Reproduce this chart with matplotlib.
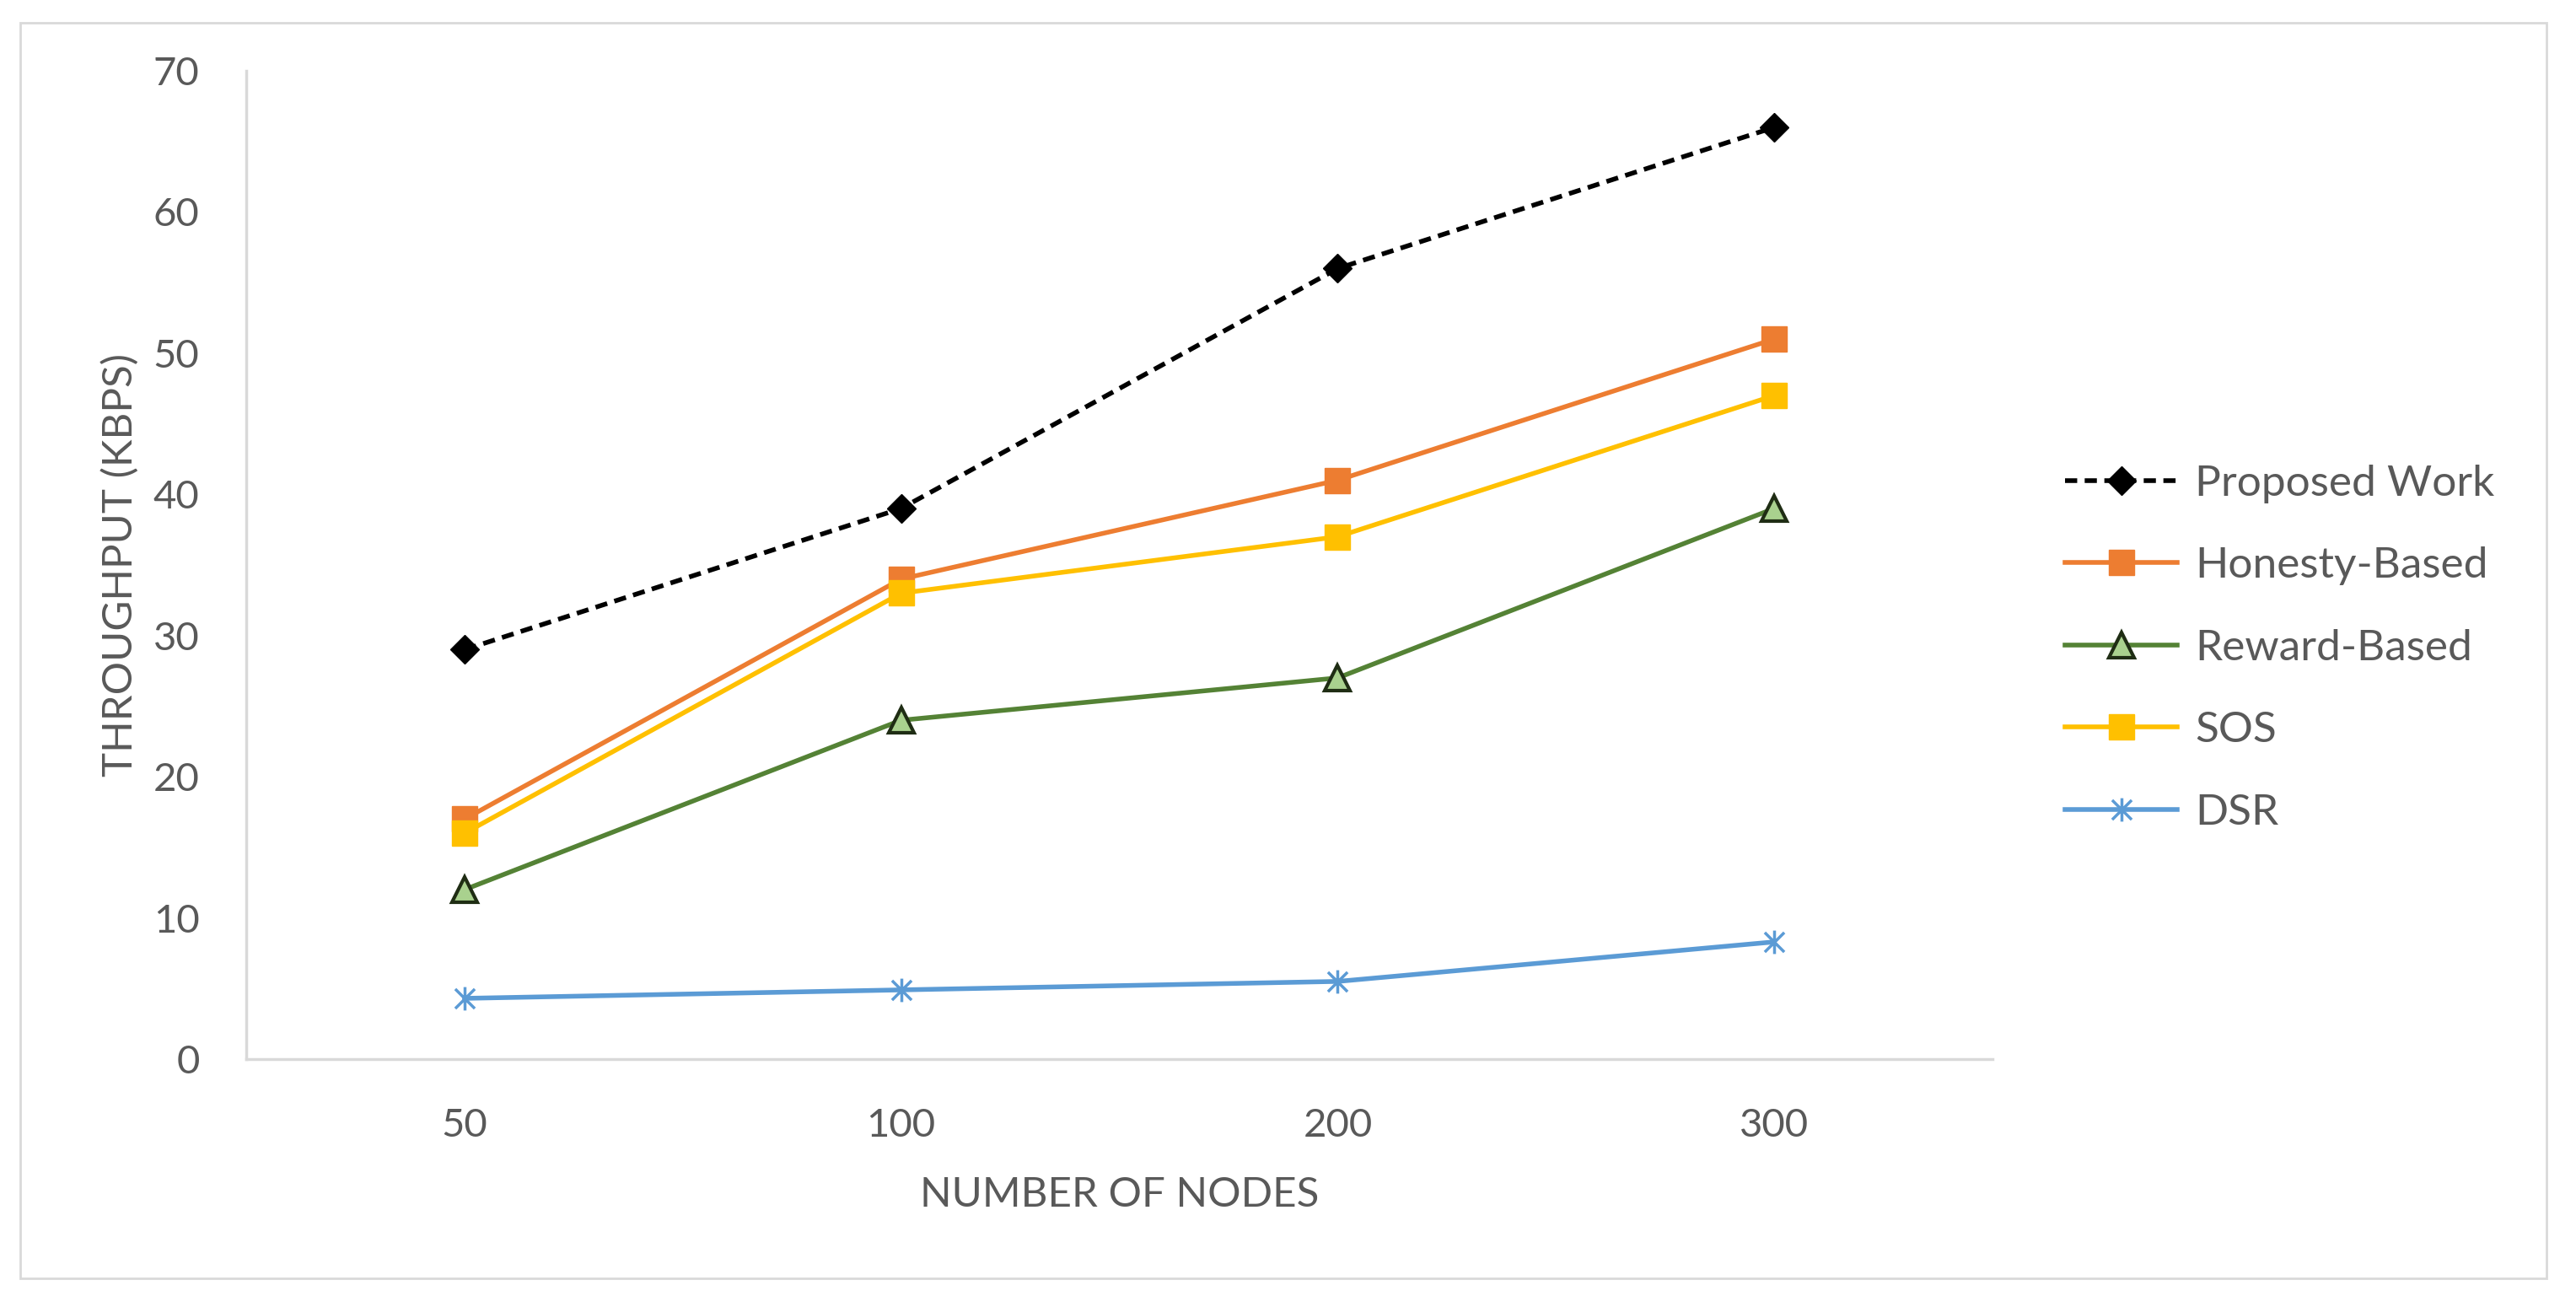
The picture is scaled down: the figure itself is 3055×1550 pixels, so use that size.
import matplotlib
matplotlib.use("Agg")
import matplotlib.pyplot as plt
from matplotlib.path import Path
from matplotlib.patches import Rectangle

nodes = ["50", "100", "200", "300"]
proposed = [29, 39, 56, 66]
honesty = [17, 34, 41, 51]
reward = [12, 24, 27, 39]
sos = [16, 33, 37, 47]
dsr = [4.3, 4.9, 5.5, 8.3]

# asterisk like the Excel star marker
star = Path([(-1, -1), (1, 1), (-1, 1), (1, -1), (0, -1.2), (0, 1.2)],
            [Path.MOVETO, Path.LINETO, Path.MOVETO, Path.LINETO, Path.MOVETO, Path.LINETO])

plt.rcParams['font.family'] = ['Lato', 'DejaVu Sans']
txt = '#595959'

fig = plt.figure(figsize=(30.55, 15.5), dpi=100)
ax = fig.add_axes([0.0956, 0.1897, 0.6779, 0.7561])
x = [i + 0.5 for i in range(len(nodes))]

ax.plot(x, proposed, color='black', lw=4, ls=(0, (2.6, 1.6)), marker='D', ms=17,
        label='Proposed Work')
ax.plot(x, honesty, color='#ED7D31', lw=4, marker='s', ms=21, label='Honesty-Based')
ax.plot(x, reward, color='#548235', lw=4, marker='^', ms=21, mfc='#A9D18E', mec='#1f2d14',
        mew=3, label='Reward-Based')
ax.plot(x, sos, color='#FFC000', lw=4, marker='s', ms=21, label='SOS')
ax.plot(x, dsr, color='#5B9BD5', lw=4, marker=star, ms=20, mew=2.5, label='DSR')

ax.set_xlim(0, 4)
ax.set_ylim(0, 70)
ax.set_xticks(x)
ax.set_xticklabels(nodes)
ax.set_yticks(range(0, 71, 10))
ax.tick_params(length=0, labelsize=34, colors=txt)
ax.tick_params(axis='y', pad=40)
ax.tick_params(axis='x', pad=42)
for s in ['top', 'right']:
    ax.spines[s].set_visible(False)
for s in ['left', 'bottom']:
    ax.spines[s].set_color('#d9d9d9')
    ax.spines[s].set_linewidth(2.5)

ax.set_xlabel('NUMBER OF NODES', fontsize=35.5, color=txt, labelpad=28)
ax.set_ylabel('THROUGHPUT (KBPS)', fontsize=35.5, color=txt, labelpad=12)

fig.legend(loc='center left', bbox_to_anchor=(0.8016, 0.504), frameon=False,
           fontsize=37, handlelength=2.6, handletextpad=0.4, labelspacing=1.0,
           borderpad=0, borderaxespad=0, labelcolor=txt)

fig.add_artist(Rectangle((24 / 3055, 1 - 1516 / 1550), (3020 - 24) / 3055, (1516 - 27) / 1550,
                         transform=fig.transFigure, fill=False, edgecolor='#d9d9d9', lw=2))

fig.savefig('out.png', dpi=100)
